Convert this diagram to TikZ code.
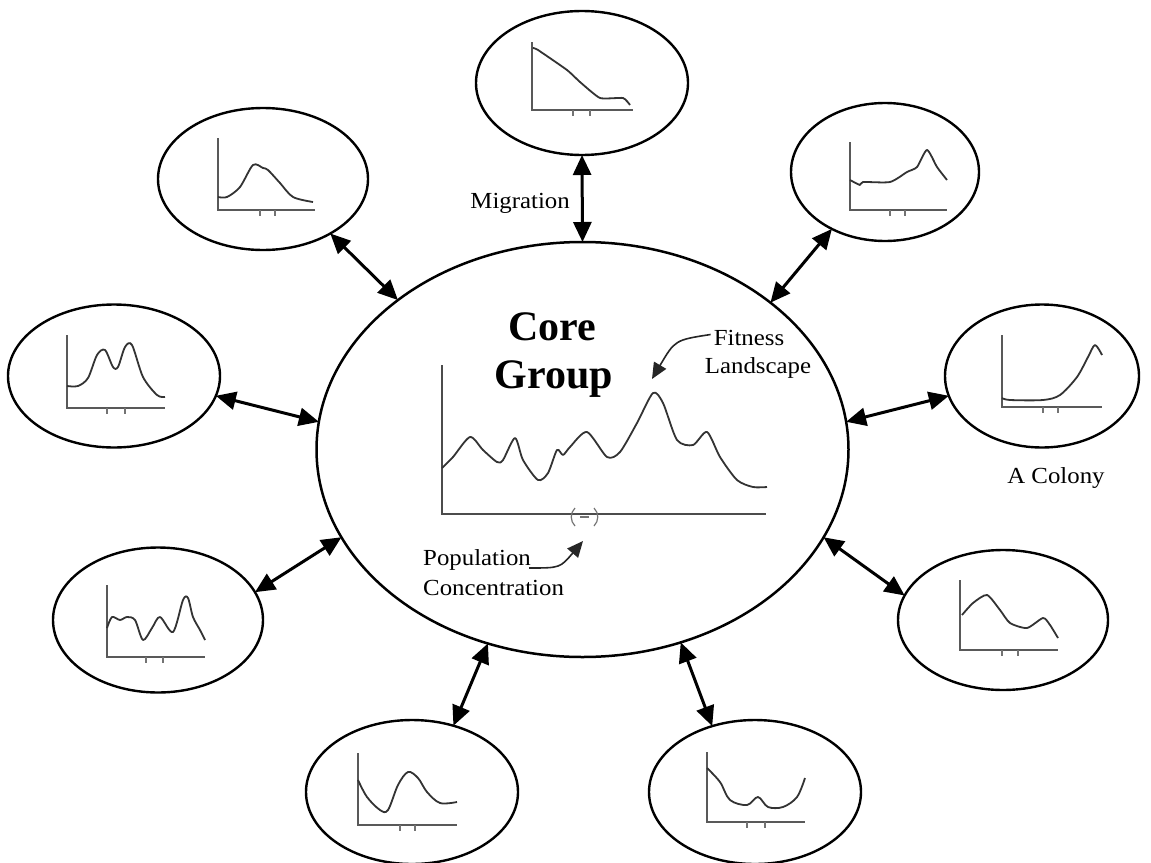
\documentclass[tikz,border=0pt]{standalone}
\usepackage{fontspec}
\setmainfont{Liberation Serif}
\newfontfamily\lbl[FakeStretch=1.08]{Liberation Serif}
\usetikzlibrary{shapes.geometric,arrows.meta}
\tikzset{
  colony/.style={ellipse, draw, line width=2.4pt, inner sep=0pt, outer sep=0pt, minimum width=212pt, minimum height=144pt},
  coreell/.style={ellipse, draw, line width=2.5pt, inner sep=0pt, outer sep=0pt, minimum width=532pt, minimum height=415pt},
  twoway/.style={{Triangle[length=20pt 0,width=18pt 0]}-{Triangle[length=20pt 0,width=18pt 0]}, line width=3pt},
  axis/.style={draw=black!65, line width=2pt},
  coreaxis/.style={draw=black!70, line width=2.4pt},
  curve/.style={draw=black!80, line width=1.8pt, line join=round},
  tick/.style={draw=black!55, line width=1.2pt},
  small/.style={font=\lbl\fontsize{23}{26}\selectfont, inner sep=0pt},
  pointer/.style={-{Triangle[length=16pt 0,width=14pt 0]}, line width=1.6pt, draw=black!85}
}
\begin{document}
\begin{tikzpicture}[x=1pt,y=-1pt]
\useasboundingbox[fill=white] (0,0) rectangle (1151,862);

% core group
\node[coreell] (core) at (582.5,449.5) {};
% colonies
\node[colony] (c1) at (582,83) {};
\node[colony, minimum width=210pt, minimum height=142pt] (c2) at (263,179) {};
\node[colony, minimum width=188pt, minimum height=138pt] (c3) at (885,172) {};
\node[colony, minimum width=212pt, minimum height=143pt] (c4) at (114,376) {};
\node[colony, minimum width=194pt, minimum height=143pt] (c5) at (1042,376) {};
\node[colony, minimum width=210pt, minimum height=145pt] (c6) at (158,620) {};
\node[colony, minimum width=210pt, minimum height=140pt] (c7) at (1003,620) {};
\node[colony] (c8) at (412,792) {};
\node[colony] (c9) at (755,792) {};

% migration arrows
\draw[twoway] (c1.-90) -- (core.90);
\draw[twoway] (c2.-39) -- (core.141.5);
\draw[twoway] (c3.-133) -- (core.38.8);
\draw[twoway] (c4.-11) -- (core.174.2);
\draw[twoway] (c5.-168) -- (core.6);
\draw[twoway] (c6.16) -- (core.-160);
\draw[twoway] (c7.166.8) -- (core.-20.9);
\draw[twoway] (c8.58) -- (core.-116.8);
\draw[twoway] (c9.123) -- (core.-63.2);

% labels
\node[small, anchor=base east] (mig) at (570,208) {Migration};
\node[small, anchor=base] (col) at (1056,483) {A Colony};
\node[font=\bfseries\fontsize{42}{48}\selectfont, inner sep=0pt, anchor=base] (coret) at (552,340) {Core};
\node[font=\bfseries\fontsize{42}{48}\selectfont, inner sep=0pt, anchor=base] (groupt) at (554,388) {Group};
\node[small, anchor=base] (fit) at (749,345) {Fitness};
\node[small, anchor=base] (land) at (758,373) {Landscape};
\node[small, anchor=base west] (pop) at (423,565) {Population};
\node[small, anchor=base west] (conc) at (423,595) {Concentration};

% core plot
\draw[coreaxis] (442,365) -- (442,514) -- (766,514);
\draw[curve] plot[smooth, tension=0.45] coordinates {
 (442,468) (453,457) (470,437) (483,450) (497,462) (503,460) (515,438) (523,460)
 (538,480) (548,473) (557,450) (563,455) (570,447) (587,432) (607,457) (620,452)
 (637,423) (653,393) (663,403) (677,440) (693,445) (707,432) (720,457) (737,480)
 (753,487) (767,487)};
\draw[tick] (575,508) .. controls (570,513) and (570,521) .. (575,526);
\draw[tick] (594,508) .. controls (599,513) and (599,521) .. (594,526);
\draw[tick] (580,517) -- (589,517);

\coordinate (peak) at (652,379);
\coordinate (spot) at (583,541);
\draw[pointer] (fit.west) ++(-3,-3) .. controls (675,340) .. (peak);
\draw[pointer] (pop.base east) ++(-2,3) .. controls (560,568) .. (spot);

% colony 1 (top)
\draw[axis] (532,42) -- (532,110) -- (633,110);
\draw[tick] (573,110) -- (573,116) (590,110) -- (590,116);
\draw[curve] plot[smooth, tension=0.3] coordinates {(533,48) (538,50) (567,70) (580,82) (600,98) (623,98) (630,105)};
% colony 2 (top-left)
\draw[axis] (218,138) -- (218,210) -- (315,210);
\draw[tick] (260,210) -- (260,216) (275,210) -- (275,216);
\draw[curve] plot[smooth, tension=0.5] coordinates {(218,197) (227,197) (240,187) (253,165) (263,168) (268,170) (280,183) (293,197) (313,202)};
% colony 3 (top-right)
\draw[axis] (850,142) -- (850,210) -- (947,210);
\draw[tick] (890,210) -- (890,216) (905,210) -- (905,216);
\draw[curve] plot[smooth, tension=0.4] coordinates {(850,180) (860,185) (863,182) (890,182) (907,172) (917,167) (927,150) (937,167) (947,180)};
% colony 4 (left)
\draw[axis] (67,335) -- (67,408) -- (165,408);
\draw[tick] (107,408) -- (107,414) (125,408) -- (125,414);
\draw[curve] plot[smooth, tension=0.5] coordinates {(67,386) (78,386) (88,378) (97,355) (105,350) (113,367) (118,367) (125,347) (132,345) (143,377) (157,395) (165,397)};
% colony 5 (right)
\draw[axis] (1002,335) -- (1002,407) -- (1102,407);
\draw[tick] (1043,407) -- (1043,413) (1058,407) -- (1058,413);
\draw[curve] plot[smooth, tension=0.5] coordinates {(1002,398) (1010,400) (1043,400) (1060,395) (1077,377) (1088,357) (1095,345) (1102,355)};
% colony 6 (lower-left)
\draw[axis] (107,585) -- (107,657) -- (205,657);
\draw[tick] (146,657) -- (146,663) (163,657) -- (163,663);
\draw[curve] plot[smooth, tension=0.5] coordinates {(107,628) (112,617) (120,620) (127,617) (135,620) (143,640) (152,628) (160,617) (173,632) (183,600) (188,598) (193,617) (200,630) (205,640)};
% colony 7 (lower-right)
\draw[axis] (960,580) -- (960,650) -- (1058,650);
\draw[tick] (1002,650) -- (1002,656) (1018,650) -- (1018,656);
\draw[curve] plot[smooth, tension=0.4] coordinates {(962,615) (973,603) (987,595) (1000,610) (1010,623) (1027,628) (1043,618) (1050,625) (1058,638)};
% colony 8 (bottom-left)
\draw[axis] (358,753) -- (358,825) -- (457,825);
\draw[tick] (400,825) -- (400,831) (415,825) -- (415,831);
\draw[curve] plot[smooth, tension=0.55] coordinates {(358,780) (367,797) (380,810) (388,810) (398,785) (408,772) (418,778) (427,792) (440,803) (457,802)};
% colony 9 (bottom-right)
\draw[axis] (707,752) -- (707,822) -- (805,822);
\draw[tick] (747,822) -- (747,828) (765,822) -- (765,828);
\draw[curve] plot[smooth, tension=0.55] coordinates {(707,768) (720,782) (730,800) (747,805) (758,797) (768,807) (783,807) (797,797) (805,778)};
\end{tikzpicture}
\end{document}
